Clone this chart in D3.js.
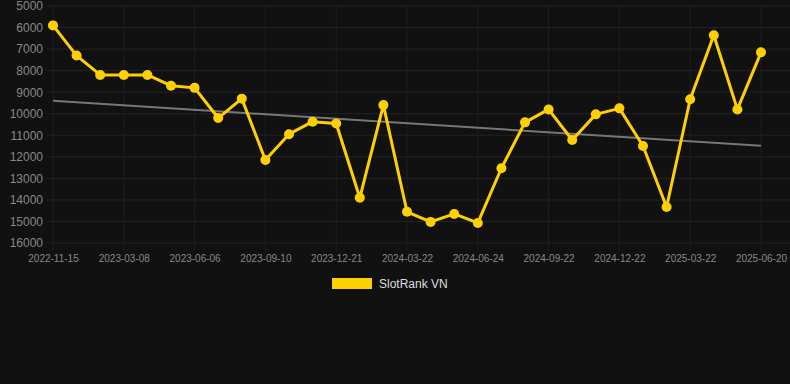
<!DOCTYPE html>
<html><head><meta charset="utf-8">
<script src="https://cdn.jsdelivr.net/npm/d3@7/dist/d3.min.js"></script>
<style>html,body{margin:0;padding:0;background:#111111;}svg{display:block;}</style>
</head><body>
<svg id="c" width="790" height="384"></svg>
<script>
const dates = ["2022-11-15","2022-12-23","2023-01-30","2023-03-08","2023-04-06","2023-05-06","2023-06-06","2023-07-10","2023-08-10","2023-09-10","2023-10-17","2023-11-22","2023-12-21","2024-01-20","2024-02-21","2024-03-22","2024-04-23","2024-05-24","2024-06-24","2024-07-24","2024-08-23","2024-09-22","2024-10-22","2024-11-22","2024-12-22","2025-01-20","2025-02-20","2025-03-22","2025-04-21","2025-05-21","2025-06-20"];
const values = [5900,7300,8200,8200,8200,8700,8800,10200,9300,12150,10950,10370,10450,13900,9600,14550,15020,14650,15070,12530,10400,9800,11220,10030,9750,11500,14330,9330,6360,9800,7150];
const yTicks = [5000,6000,7000,8000,9000,10000,11000,12000,13000,14000,15000,16000];
const seriesName = "SlotRank VN";
const tickEvery = 3;

const svg = d3.select("#c");
const pLeft = 53, pRight = 761, pTop = 6, pBottom = 243, gridRight = 790, gridLeft = 47;
const x = d3.scaleLinear().domain([0, dates.length-1]).range([pLeft, pRight]);
const y = d3.scaleLinear().domain([5000, 16000]).range([pTop, pBottom]);

const grid = svg.append("g");
yTicks.forEach(t => {
  grid.append("line").attr("x1", gridLeft).attr("x2", gridRight)
    .attr("y1", y(t)).attr("y2", y(t)).attr("stroke", "#232323").attr("stroke-width", 1);
});
const xTickIdx = d3.range(0, dates.length, tickEvery);
xTickIdx.forEach(i => {
  grid.append("line").attr("x1", x(i)).attr("x2", x(i))
    .attr("y1", pTop).attr("y2", pBottom + 8).attr("stroke", "#1f1f1f").attr("stroke-width", 1);
});

const yAxis = d3.axisLeft(y).tickValues(yTicks).tickSize(0).tickPadding(0).tickFormat(d3.format("d"));
const ya = svg.append("g").attr("transform", `translate(43,0)`).call(yAxis);
ya.select(".domain").remove();
ya.selectAll("text").attr("fill", "#888").attr("font-size", "12px").attr("font-family", "Liberation Sans, Arial, sans-serif");

const xAxis = d3.axisBottom(x).tickValues(xTickIdx).tickSize(0).tickPadding(0).tickFormat(i => dates[i]);
const xa = svg.append("g").attr("transform", `translate(0,255)`).call(xAxis);
xa.select(".domain").remove();
xa.selectAll("text").attr("fill", "#888").attr("font-size", "10px").attr("font-family", "Liberation Sans, Arial, sans-serif");

// trend line (least squares)
const n = values.length;
const mx = d3.mean(d3.range(n)), my = d3.mean(values);
let sxy = 0, sxx = 0;
values.forEach((v, i) => { sxy += (i - mx) * (v - my); sxx += (i - mx) * (i - mx); });
const slope = sxy / sxx, icpt = my - slope * mx;
svg.append("line").attr("x1", x(0)).attr("y1", y(icpt)).attr("x2", x(n-1)).attr("y2", y(icpt + slope*(n-1)))
  .attr("stroke", "#777").attr("stroke-width", 2);

const line = d3.line().x((d, i) => x(i)).y(d => y(d));
svg.append("path").datum(values).attr("d", line).attr("fill", "none")
  .attr("stroke", "#FFD000").attr("stroke-width", 3).attr("stroke-linejoin", "round");
svg.selectAll("circle.pt").data(values).enter().append("circle").attr("class", "pt")
  .attr("cx", (d, i) => x(i)).attr("cy", d => y(d)).attr("r", 5).attr("fill", "#FFD000");

const lg = svg.append("g");
lg.append("rect").attr("x", 332).attr("y", 278).attr("width", 40).attr("height", 11).attr("fill", "#FFD000");
lg.append("text").attr("x", 379).attr("y", 288).attr("fill", "#ddd").attr("font-size", "12px")
  .attr("font-family", "Liberation Sans, Arial, sans-serif").text(seriesName);
</script>
</body></html>
